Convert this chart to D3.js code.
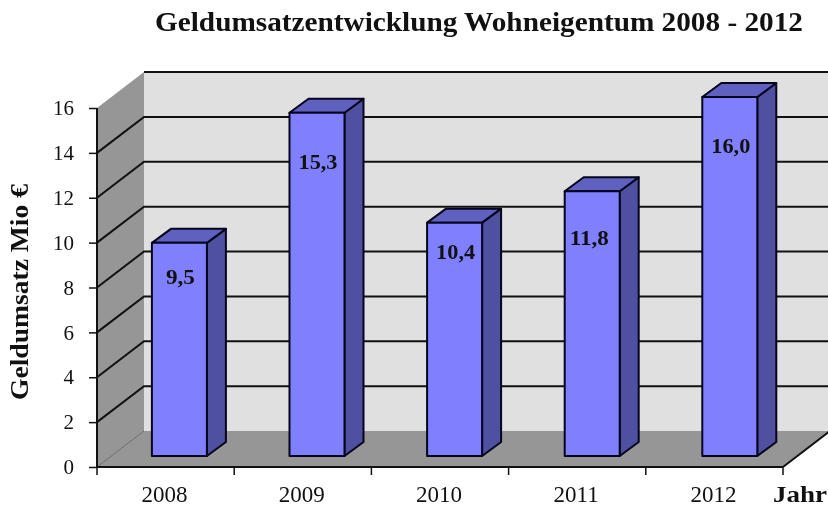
<!DOCTYPE html>
<html><head><meta charset="utf-8">
<script src="https://cdn.jsdelivr.net/npm/d3@7"></script>
<style>html,body{margin:0;padding:0;background:#fff}svg{display:block;filter:blur(0.35px)}text{font-family:"Liberation Serif",serif;fill:#111}</style>
</head><body><div id="c"></div>
<script>
const years=["2008","2009","2010","2011","2012"];
const values=[9.5,15.3,10.4,11.8,16.0];
const valueLabels=["9,5","15,3","10,4","11,8","16,0"];
const yTicks=[0,2,4,6,8,10,12,14,16];
const chartTitle="Geldumsatzentwicklung Wohneigentum 2008 - 2012";
const yTitle="Geldumsatz Mio €";
const xEnd="Jahr";

const W=828,H=509;
const svg=d3.select("#c").append("svg").attr("width",W).attr("height",H);
const x0=97,x1=783,depthX=47,depthY=36;
const y=d3.scaleLinear().domain([0,16]).range([467,108]);
const x=d3.scaleBand().domain(years).range([x0,x1]);
const xBar=d3.scalePoint().domain(years).range([179.4,729.8]);
const barW=55,bdx=19,bdy=14,offY=11;
const labelDrop=[41,56,36,54,56];
const labelShift=[1,1,1,-3,1];
const line=c=>d3.line()(c);
const poly=(pts,fill)=>svg.append("path").attr("d",line(pts)+"Z").attr("fill",fill);

// walls
poly([[x0+depthX,y(16)-depthY],[W+10,y(16)-depthY],[W+10,y(0)-depthY],[x0+depthX,y(0)-depthY]],"#e0e0e0");
poly([[x0,y(16)],[x0+depthX,y(16)-depthY],[x0+depthX,y(0)-depthY],[x0,y(0)]],"#969696");
poly([[x0,y(0)],[x0+depthX,y(0)-depthY],[x1+depthX,y(0)-depthY],[x1,y(0)]],"#969696");

// grid
yTicks.forEach(t=>{
  if(t===0){
    svg.append("path").attr("d",line([[x0,y(0)],[x0+depthX,y(0)-depthY]])).attr("stroke","#6a6a6a").attr("stroke-width",1).attr("fill","none");
    svg.append("path").attr("d",line([[x1,y(0)],[x1+depthX,y(0)-depthY]])).attr("stroke","#111").attr("stroke-width",2).attr("fill","none");
    return;
  }
  if(t===16){
    svg.append("path").attr("d",line([[x0+depthX,y(t)-depthY],[W+10,y(t)-depthY]])).attr("stroke","#111").attr("stroke-width",2).attr("fill","none");
    return;
  }
  svg.append("path").attr("d",line([[x0,y(t)],[x0+depthX,y(t)-depthY],[W+10,y(t)-depthY]]))
    .attr("stroke","#111").attr("stroke-width",2).attr("fill","none");
});

// bars
const bars=svg.selectAll("g.bar").data(years.map((yr,i)=>({yr,v:values[i],label:valueLabels[i],drop:labelDrop[i],shift:labelShift[i]}))).join("g").attr("class","bar");
const strokeAttr=s=>s.attr("stroke","#05051e").attr("stroke-width",2).attr("stroke-linejoin","round");
bars.each(function(d){
  const g=d3.select(this);
  const cx=xBar(d.yr);
  const l=cx-barW/2,r=cx+barW/2,b=y(0)-offY,t=y(d.v)-offY;
  g.append("path").attr("d",line([[r,b],[r+bdx,b-bdy],[r+bdx,t-bdy],[r,t]])+"Z").attr("fill","#5050a0").call(strokeAttr);
  g.append("path").attr("d",line([[l,t],[l+bdx,t-bdy],[r+bdx,t-bdy],[r,t]])+"Z").attr("fill","#6060c0").call(strokeAttr);
  g.append("path").attr("d",line([[l,b],[r,b],[r,t],[l,t]])+"Z").attr("fill","#8080ff").call(strokeAttr);
  g.append("text").attr("x",cx+d.shift).attr("y",t+d.drop).attr("text-anchor","middle")
    .attr("font-size",22).attr("font-weight","bold").attr("lengthAdjust","spacingAndGlyphs").attr("textLength",d.label.length===3?29:39).text(d.label);
});

// axes
const ya=svg.append("g").attr("transform",`translate(${x0},0)`)
  .call(d3.axisLeft(y).tickValues(yTicks).tickSize(8).tickPadding(15));
ya.select(".domain").attr("stroke","#111").attr("stroke-width",2).attr("d",line([[0,y(16)],[0,y(0)]]));
ya.selectAll(".tick line").attr("stroke","#111").attr("stroke-width",1.5);
ya.selectAll("text").attr("font-size",21).attr("font-family","Liberation Serif").attr("fill","#222");

const xa=svg.append("g").attr("transform",`translate(-1,${y(0)})`)
  .call(d3.axisBottom(x).tickSize(0).tickPadding(19));
xa.select(".domain").attr("stroke","#111").attr("stroke-width",2).attr("d",line([[x0+1,0],[x1+1,0]]));
xa.selectAll("text").attr("font-size",23).attr("font-family","Liberation Serif").attr("fill","#222");
const edges=years.map(v=>x(v)).concat([x1]);
svg.selectAll("line.xt").data(edges).join("line").attr("class","xt")
  .attr("x1",d=>d).attr("x2",d=>d).attr("y1",y(0)).attr("y2",y(0)+8).attr("stroke","#111").attr("stroke-width",1.5);

// titles
const fit=s=>s.attr("lengthAdjust","spacingAndGlyphs");
svg.append("text").attr("x",155).attr("y",31).attr("font-size",27).attr("font-weight","bold").attr("textLength",648).call(fit).text(chartTitle);
svg.append("text").attr("transform","translate(28,400) rotate(-90)").attr("font-size",25).attr("font-weight","bold").attr("textLength",216).call(fit).text(yTitle);
svg.append("text").attr("x",773).attr("y",502).attr("font-size",24).attr("font-weight","bold").attr("textLength",54).call(fit).text(xEnd);
</script></body></html>
